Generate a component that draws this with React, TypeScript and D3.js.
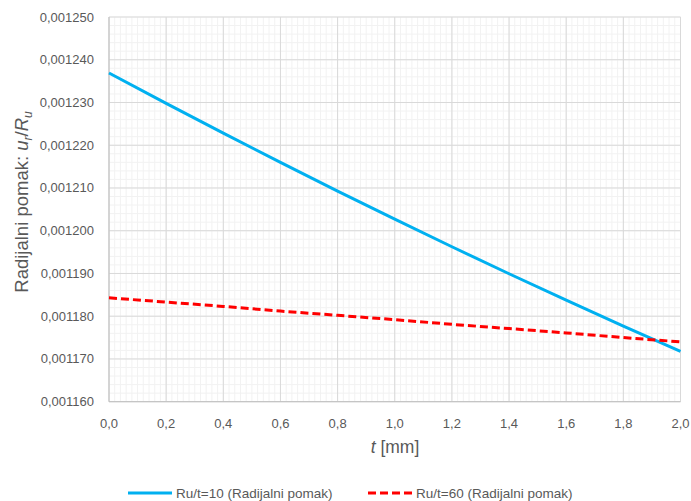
import React from "react";
import * as d3 from "d3";

const tValues = [0, 0.2, 0.4, 0.6, 0.8, 1.0, 1.2, 1.4, 1.6, 1.8, 2.0];
const seriesRu10 = [0.0012369, 0.0012298, 0.00122283, 0.00121599, 0.00120928, 0.0012027, 0.00119625, 0.00118993, 0.00118374, 0.00117768, 0.00117175];
const seriesRu60 = [0.0011843, 0.0011833, 0.0011823, 0.0011812, 0.0011802, 0.0011792, 0.0011781, 0.0011771, 0.0011761, 0.001175, 0.001174];
const xTicks = [0, 0.2, 0.4, 0.6, 0.8, 1.0, 1.2, 1.4, 1.6, 1.8, 2.0];
const yTicks = [0.00116, 0.00117, 0.00118, 0.00119, 0.0012, 0.00121, 0.00122, 0.00123, 0.00124, 0.00125];
const legendLabels = ["Ru/t=10 (Radijalni pomak)", "Ru/t=60 (Radijalni pomak)"];

const W = 691, H = 501;
const L = 109, R = 680.5, T = 17, B = 401.7;
const FONT = "'Liberation Sans', Arial, sans-serif";
const TXT = "#595959";

export default function App() {
  const x = d3.scaleLinear().domain([0, 2]).range([L, R]);
  const y = d3.scaleLinear().domain([0.00116, 0.00125]).range([B, T]);
  const line = d3.line<number>().x((_, i) => x(tValues[i])).y(d => y(d));

  const minorX: number[] = [];
  for (let i = 0; i <= 100; i++) minorX.push(i * 0.02);
  const minorY: number[] = [];
  for (let i = 0; i <= 45; i++) minorY.push(0.00116 + i * 0.000002);

  const fmtX = (v: number) => v.toFixed(1).replace(".", ",");
  const fmtY = (v: number) => v.toFixed(6).replace(".", ",");

  return (
    <svg width={W} height={H} style={{ position: "absolute", left: 0, top: 0, background: "#fff" }} fontFamily={FONT}>
      <rect x={0} y={0} width={W} height={H} fill="#fff" />
      <g>
        {minorX.map((v, i) => (
          <line key={"mx" + i} x1={x(v)} x2={x(v)} y1={T} y2={B} stroke="#F2F2F2" strokeWidth={1} />
        ))}
        {minorY.map((v, i) => (
          <line key={"my" + i} x1={L} x2={R} y1={y(v)} y2={y(v)} stroke="#F2F2F2" strokeWidth={1} />
        ))}
        {xTicks.map((v, i) => (
          <line key={"gx" + i} x1={x(v)} x2={x(v)} y1={T} y2={B} stroke="#D9D9D9" strokeWidth={1} />
        ))}
        {yTicks.map((v, i) => (
          <line key={"gy" + i} x1={L} x2={R} y1={y(v)} y2={y(v)} stroke="#D9D9D9" strokeWidth={1} />
        ))}
        <line x1={L} x2={R} y1={B} y2={B} stroke="#BFBFBF" strokeWidth={1} />
        <line x1={L} x2={L} y1={T} y2={B} stroke="#BFBFBF" strokeWidth={1} />
      </g>
      <g fontSize={13} fill={TXT}>
        {yTicks.map((v, i) => (
          <text key={"yt" + i} x={94} y={y(v)} textAnchor="end" dominantBaseline="central">{fmtY(v)}</text>
        ))}
        {xTicks.map((v, i) => (
          <text key={"xt" + i} x={x(v)} y={423} textAnchor="middle" dominantBaseline="central">{fmtX(v)}</text>
        ))}
      </g>
      <text x={395} y={453} textAnchor="middle" fontSize={17.5} fill={TXT}>
        <tspan fontStyle="italic">t</tspan> [mm]
      </text>
      <text transform="translate(28,202) rotate(-90)" textAnchor="middle" fontSize={18.5} fill={TXT}>
        Radijalni pomak: <tspan fontStyle="italic">u</tspan>
        <tspan fontSize={12} fontStyle="italic" dy={4}>r</tspan>
        <tspan dy={-4}>/</tspan>
        <tspan fontStyle="italic">R</tspan>
        <tspan fontSize={12} fontStyle="italic" dy={4}>u</tspan>
      </text>
      <path d={line(seriesRu10) || ""} fill="none" stroke="#00B0F0" strokeWidth={3} />
      <path d={line(seriesRu60) || ""} fill="none" stroke="#FF0000" strokeWidth={3} strokeDasharray="8,4" />
      <g fontSize={13.5} fill={TXT}>
        <line x1={128} x2={172} y1={493} y2={493} stroke="#00B0F0" strokeWidth={3} />
        <text x={176} y={493} dominantBaseline="central">{legendLabels[0]}</text>
        <line x1={368} x2={412} y1={493} y2={493} stroke="#FF0000" strokeWidth={3} strokeDasharray="8,4" />
        <text x={416} y={493} dominantBaseline="central">{legendLabels[1]}</text>
      </g>
    </svg>
  );
}
